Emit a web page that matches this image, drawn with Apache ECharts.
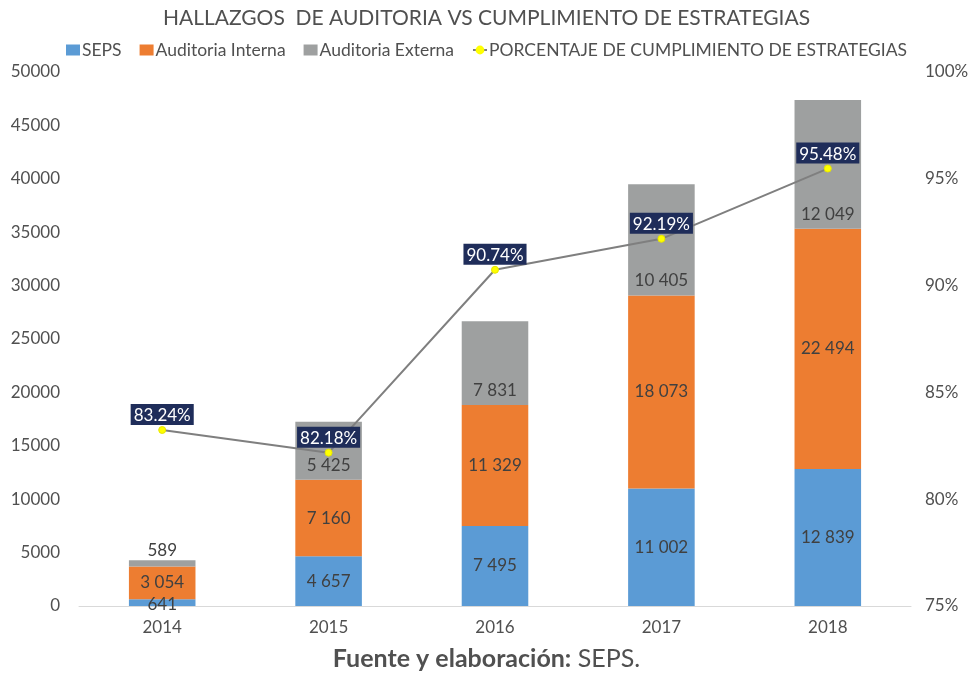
<!DOCTYPE html>
<html><head><meta charset="utf-8">
<script src="https://cdn.jsdelivr.net/npm/echarts@6/dist/echarts.min.js"></script>
<style>html,body{margin:0;padding:0;background:#fff}#c{width:973px;height:674px}</style>
</head><body><div id="c"></div>
<script>
const years = ['2014','2015','2016','2017','2018'];
const seps = [641, 4657, 7495, 11002, 12839];
const interna = [3054, 7160, 11329, 18073, 22494];
const externa = [589, 5425, 7831, 10405, 12049];
const porcentaje = [83.24, 82.18, 90.74, 92.19, 95.48];

const fmtNum = v => String(v).replace(/\B(?=(\d{3})+(?!\d))/g, ' ');
const font = 'Lato, "Noto Sans", sans-serif';
const txt = '#505050';
const barLabel = {show:true, position:'inside', color:'#404040', fontSize:17, fontFamily:font, formatter:p=>fmtNum(p.value)};

const sepsData = seps.map((v,i)=> i===0 ? {value:v, label:{offset:[0,2]}} : v);
const extData = externa.map((v,i)=> i===0 ? {value:v, label:{position:'top', distance:1}} : v);

const chart = echarts.init(document.getElementById('c'));
chart.setOption({
  animation:false,
  textStyle:{fontFamily:font},
  title:{text:'HALLAZGOS  DE AUDITORIA VS CUMPLIMIENTO DE ESTRATEGIAS', left:'center', top:3,
    textStyle:{fontSize:21, fontWeight:'normal', color:txt, fontFamily:font}},
  legend:{top:36, left:'center', itemGap:18, itemWidth:14, itemHeight:11,
    textStyle:{fontSize:17.5, color:txt, fontFamily:font, padding:[0,0,0,-3]},
    data:[{name:'SEPS', icon:'rect'},{name:'Auditoria Interna', icon:'rect'},{name:'Auditoria Externa', icon:'rect'},{name:'PORCENTAJE DE CUMPLIMIENTO DE ESTRATEGIAS'}]},
  grid:{left:79, right:62, top:72, bottom:68, containLabel:false},
  xAxis:{type:'category', data:years, axisTick:{show:false},
    axisLine:{lineStyle:{color:'#d9d9d9', width:1}},
    axisLabel:{fontSize:17, color:txt, margin:13, fontFamily:font}},
  yAxis:[
    {type:'value', min:0, max:50000, interval:5000, splitLine:{show:false},
      axisLabel:{fontSize:17, color:txt, margin:19, fontFamily:font, formatter:v=>String(v)}},
    {type:'value', min:0.75, max:1, interval:0.05, splitLine:{show:false},
      axisLabel:{fontSize:17, color:txt, margin:14, fontFamily:font, formatter:v=>Math.round(v*100)+'%'}}
  ],
  graphic:[{type:'text', left:'center', top:646, style:{
    rich:{b:{fontWeight:'bold', fontSize:25, fill:txt, fontFamily:font}, n:{fontSize:25, fill:txt, fontFamily:font}},
    text:'{b|Fuente y elaboración:}{n| SEPS.}'}}],
  series:[
    {name:'SEPS', type:'bar', stack:'t', data:sepsData, barWidth:'40%', itemStyle:{color:'#5b9bd5'}, label:barLabel},
    {name:'Auditoria Interna', type:'bar', stack:'t', data:interna, itemStyle:{color:'#ed7d31'}, label:barLabel},
    {name:'Auditoria Externa', type:'bar', stack:'t', data:extData, itemStyle:{color:'#9ea0a0'},
      label:Object.assign({}, barLabel, {position:'insideBottom', distance:6})},
    {name:'PORCENTAJE DE CUMPLIMIENTO DE ESTRATEGIAS', type:'line', yAxisIndex:1,
      data:porcentaje.map(v=>v/100), symbol:'circle', symbolSize:7,
      itemStyle:{color:'#ffff00', borderColor:'#e6e600'}, lineStyle:{color:'#7f7f7f', width:2},
      label:{show:true, position:'top', distance:1, color:'#ffffff', backgroundColor:'#1f2d5a',
        padding:[3,3,1,3], fontSize:17, fontFamily:font, formatter:p=>(p.value*100).toFixed(2)+'%'}}
  ]
});
</script></body></html>
